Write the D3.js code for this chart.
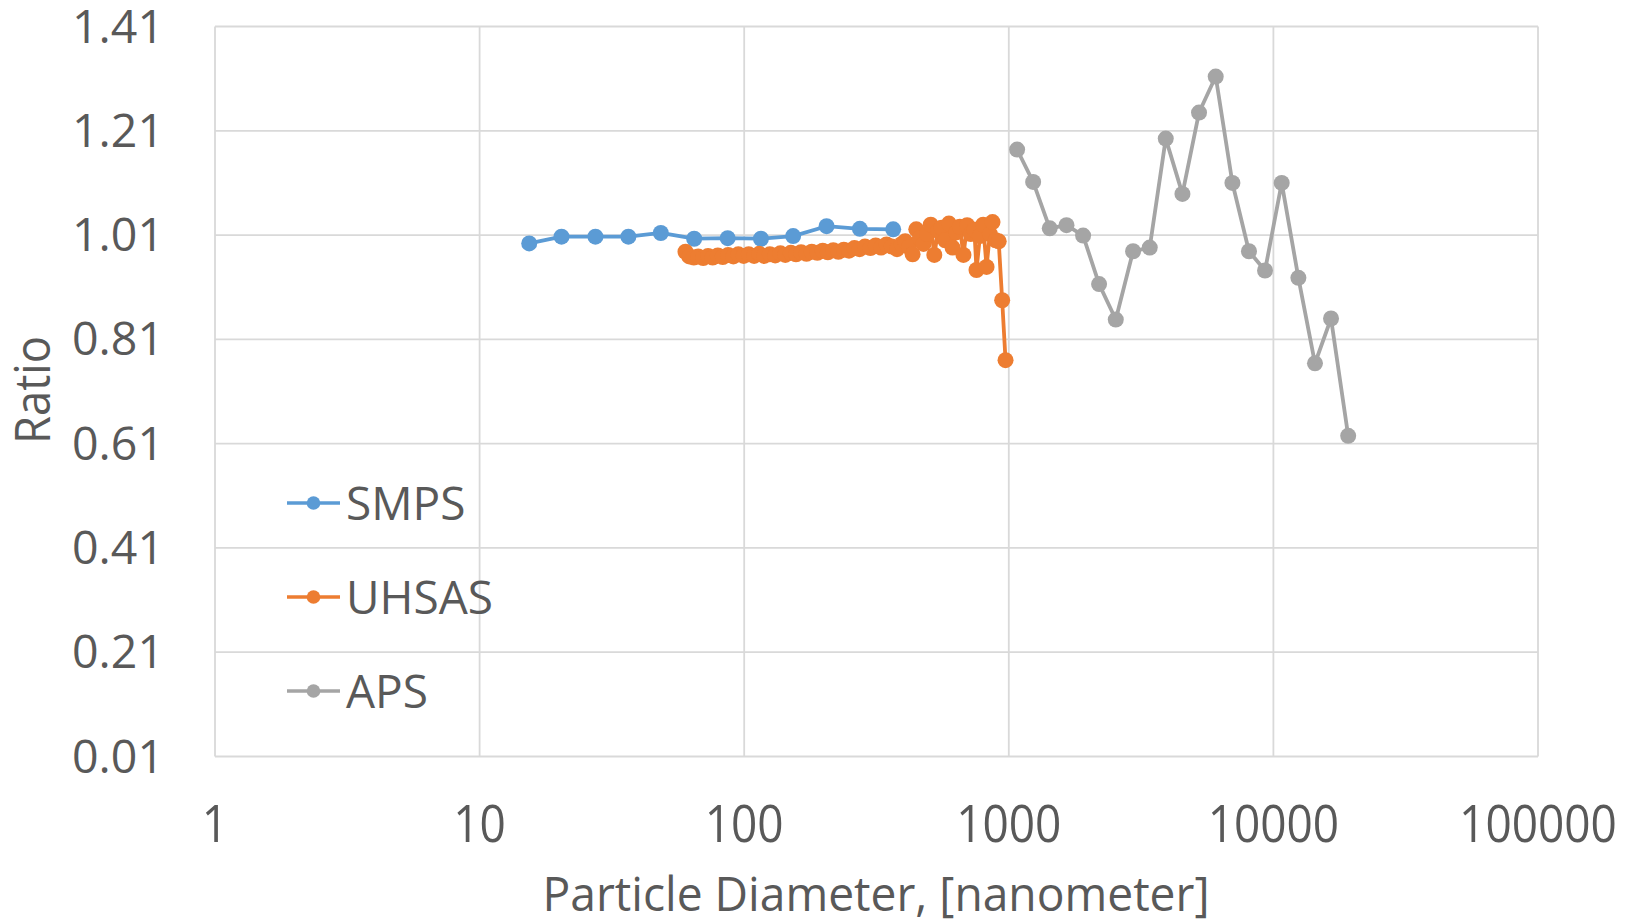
<!DOCTYPE html>
<html>
<head>
<meta charset="utf-8">
<script src="https://cdn.jsdelivr.net/npm/d3@7"></script>
<style>
  body { margin: 0; background: #fff; }
  text { font-family: "Open Sans", "Liberation Sans", sans-serif; fill: #595959; }
</style>
</head>
<body>
<div id="chart"></div>
<script>
// values
const seriesNames = ["SMPS", "UHSAS", "APS"];
const seriesColors = ["#5B9BD5", "#ED7D31", "#A5A5A5"];

const smpsX = [15.4, 20.4, 27.4, 36.5, 48.4, 64.7, 86.6, 115.7, 153.1, 204.8, 273.6, 365.6];
const smpsY = [0.994, 1.007, 1.007, 1.007, 1.014, 1.003, 1.004, 1.003, 1.008, 1.027, 1.022, 1.021];

const uhsasX = [60, 62, 64.5, 67, 70, 73, 76, 79.5, 83, 87, 91, 95, 99.5, 104, 109, 114, 119, 125, 131,
  137, 143, 150, 157, 164, 172, 180, 189, 198, 207, 217, 227, 238, 249, 261, 273, 286, 300, 314, 329,
  345, 361, 378, 394, 406, 419, 433, 447, 461, 476, 491, 507, 523, 540, 557, 575, 594, 613, 633, 653,
  674, 696, 718, 741, 755, 778, 800, 824, 848, 868, 892, 916, 944, 972];
const uhsasY = [0.978, 0.969, 0.967, 0.969, 0.966, 0.970, 0.967, 0.971, 0.968, 0.972, 0.969, 0.973,
  0.970, 0.973, 0.970, 0.974, 0.970, 0.973, 0.971, 0.975, 0.972, 0.976, 0.973, 0.977, 0.974, 0.978,
  0.976, 0.980, 0.977, 0.981, 0.978, 0.982, 0.980, 0.985, 0.983, 0.988, 0.985, 0.990, 0.986, 0.992,
  0.988, 0.983, 0.993, 0.998, 0.987, 0.973, 1.021, 1.004, 0.993, 1.012, 1.030, 0.972, 1.018, 1.024,
  1.000, 1.032, 0.986, 1.015, 1.026, 0.972, 1.029, 1.012, 1.020, 0.943, 1.008, 1.030, 0.949, 1.012,
  1.035, 1.000, 0.998, 0.885, 0.770];

const apsX = [1075, 1236, 1428, 1652, 1909, 2194, 2537, 2949, 3409, 3919, 4531, 5235, 6053, 7000,
  8085, 9296, 10750, 12430, 14360, 16510, 19170];
const apsY = [1.174, 1.112, 1.023, 1.029, 1.009, 0.916, 0.848, 0.979, 0.986, 1.195, 1.089, 1.245,
  1.314, 1.110, 0.979, 0.942, 1.110, 0.928, 0.764, 0.850, 0.625];

const xTicks = [1, 10, 100, 1000, 10000, 100000];
const yTicks = [0.01, 0.21, 0.41, 0.61, 0.81, 1.01, 1.21, 1.41];

const width = 1639, height = 921;
const plot = { left: 215, right: 1538, top: 26.5, bottom: 756.5 };

const svg = d3.select("#chart").append("svg")
  .attr("width", width)
  .attr("height", height);

svg.append("rect").attr("width", width).attr("height", height).attr("fill", "#fff");

const x = d3.scaleLog().domain([1, 100000]).range([plot.left, plot.right]);
const y = d3.scaleLinear().domain([0.01, 1.41]).range([plot.bottom, plot.top]);

// grid
const grid = svg.append("g").attr("stroke", "#D9D9D9").attr("stroke-width", 1.8);
grid.selectAll("line.h").data(yTicks).enter().append("line")
  .attr("class", "h")
  .attr("x1", plot.left).attr("x2", plot.right)
  .attr("y1", d => y(d)).attr("y2", d => y(d));
grid.selectAll("line.v").data(xTicks).enter().append("line")
  .attr("class", "v")
  .attr("x1", d => x(d)).attr("x2", d => x(d))
  .attr("y1", plot.top).attr("y2", plot.bottom);

// tick labels
svg.append("g").selectAll("text").data(yTicks).enter().append("text")
  .attr("x", 164)
  .attr("y", d => y(d) + 16)
  .attr("text-anchor", "end")
  .style("font-size", "46px")
  .attr("textLength", 92)
  .attr("lengthAdjust", "spacingAndGlyphs")
  .text(d => d.toFixed(2));

svg.append("g").selectAll("text").data(xTicks).enter().append("text")
  .attr("x", d => x(d))
  .attr("y", 842)
  .attr("text-anchor", "middle")
  .style("font-size", "52px")
  .attr("textLength", d => String(d).length * 26.3)
  .attr("lengthAdjust", "spacingAndGlyphs")
  .text(d => d);

// axis titles
svg.append("text")
  .attr("transform", "translate(50,390) rotate(-90)")
  .attr("text-anchor", "middle")
  .style("font-size", "50px")
  .attr("textLength", 108)
  .attr("lengthAdjust", "spacingAndGlyphs")
  .text("Ratio");

svg.append("text")
  .attr("x", 876)
  .attr("y", 911)
  .attr("text-anchor", "middle")
  .style("font-size", "48px")
  .attr("textLength", 667)
  .attr("lengthAdjust", "spacingAndGlyphs")
  .text("Particle Diameter, [nanometer]");

// series
const series = [
  { name: seriesNames[0], color: seriesColors[0], xs: smpsX, ys: smpsY },
  { name: seriesNames[1], color: seriesColors[1], xs: uhsasX, ys: uhsasY },
  { name: seriesNames[2], color: seriesColors[2], xs: apsX, ys: apsY }
];

const line = d3.line()
  .x(d => x(d[0]))
  .y(d => y(d[1]));

series.forEach(function(s) {
  let pts = s.xs.map((v, i) => [v, s.ys[i]]);
  let g = svg.append("g");
  g.append("path")
    .attr("d", line(pts))
    .attr("fill", "none")
    .attr("stroke", s.color)
    .attr("stroke-width", 3.8)
    .attr("stroke-linejoin", "round");
  g.selectAll("circle").data(pts).enter().append("circle")
    .attr("cx", d => x(d[0]))
    .attr("cy", d => y(d[1]))
    .attr("r", 8)
    .attr("fill", s.color);
});

// legend
const legend = svg.append("g").selectAll("g").data(series).enter().append("g")
  .attr("transform", (d, i) => "translate(0," + (503 + i * 94) + ")");
legend.append("line")
  .attr("x1", 287).attr("x2", 340)
  .attr("stroke", d => d.color)
  .attr("stroke-width", 3.6);
legend.append("circle")
  .attr("cx", 313.5)
  .attr("r", 6.8)
  .attr("fill", d => d.color);
legend.append("text")
  .attr("x", 346)
  .attr("y", 17)
  .style("font-size", "46px")
  .text(d => d.name);
</script>
</body>
</html>
